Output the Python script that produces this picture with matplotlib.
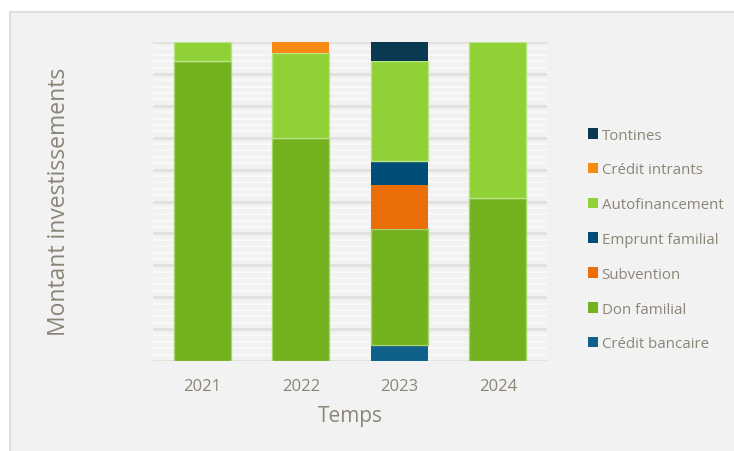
import matplotlib
matplotlib.use("Agg")
import matplotlib.pyplot as plt
from matplotlib.patches import Rectangle, Patch
from matplotlib.ticker import MultipleLocator
import numpy as np

# Share of each funding source per year (%)
years = ["2021", "2022", "2023", "2024"]
credit_bancaire = [0.0, 0.0, 4.9, 0.0]
don_familial = [94.2, 69.8, 36.5, 51.2]
subvention = [0.0, 0.0, 13.8, 0.0]
emprunt_familial = [0.0, 0.0, 7.5, 0.0]
autofinancement = [5.8, 26.7, 31.4, 48.8]
credit_intrants = [0.0, 3.5, 0.0, 0.0]
tontines = [0.0, 0.0, 5.9, 0.0]

series = [
    ("Crédit bancaire", credit_bancaire, "#10608C", "none"),
    ("Don familial", don_familial, "#74B11F", "#A6D46A"),
    ("Subvention", subvention, "#EB6E08", "none"),
    ("Emprunt familial", emprunt_familial, "#004D75", "none"),
    ("Autofinancement", autofinancement, "#8FD136", "#B8E484"),
    ("Crédit intrants", credit_intrants, "#F68A14", "none"),
    ("Tontines", tontines, "#0A3A52", "none"),
]

W, H = 734, 452
fig = plt.figure(figsize=(W / 100, H / 100), dpi=100)
fig.patch.set_facecolor("white")

# chart panel
panel = Rectangle((10 / W, -0.02), 1.05, 1 - 13 / H + 0.02, transform=fig.transFigure,
                  facecolor="#F2F2F2", edgecolor="#E0E0DB", linewidth=1.5, zorder=-10)
fig.patches.append(panel)

ax = fig.add_axes([153 / W, 1 - 362 / H, (547 - 153) / W, (362 - 43) / H])
ax.set_facecolor("none")
ax.set_zorder(1)

x = np.arange(len(years))
bottom = np.zeros(len(years))
for name, vals, col, edge in series:
    vals = np.array(vals)
    ax.bar(x, vals, width=0.58, bottom=bottom, color=col, edgecolor=edge,
           linewidth=1.0 if edge != "none" else 0, zorder=3)
    bottom += vals

ax.set_xlim(-0.5, len(years) - 0.5)
ax.set_ylim(0, 100)
ax.yaxis.set_major_locator(MultipleLocator(10))
ax.yaxis.set_minor_locator(MultipleLocator(2))
ax.grid(axis="y", which="minor", color="#F9F9F9", linewidth=1.5, zorder=1)
ax.grid(axis="y", which="major", color="#E2E1DC", linewidth=2.0, zorder=2)
ax.set_axisbelow(True)
for s in ax.spines.values():
    s.set_visible(False)
ax.tick_params(axis="y", which="both", left=False, labelleft=False)
ax.tick_params(axis="x", length=0, pad=12)
ax.set_xticks(x)
text_col = "#8A8577"
ax.set_xticklabels(years, fontsize=12, color=text_col, family="Open Sans")

ax.set_xlabel("Temps", fontsize=15, color=text_col, family="Open Sans", labelpad=8)
fig.text(59 / W, 1 - 202 / H, "Montant investissements", rotation=90, ha="center",
         va="center", fontsize=16.5, color=text_col, family="Open Sans")

handles = [Patch(facecolor=c, edgecolor="none") for _, _, c, _ in series][::-1]
labels = [n for n, _, _, _ in series][::-1]
leg = fig.legend(handles, labels, loc="upper left", bbox_to_anchor=(574 / W, 1 - 115 / H),
                 frameon=False, handlelength=0.7, handleheight=0.7, handletextpad=0.25,
                 labelspacing=1.32, prop={"family": "Open Sans", "size": 10.8})
for t in leg.get_texts():
    t.set_color(text_col)

fig.savefig("out.png", dpi=100)
